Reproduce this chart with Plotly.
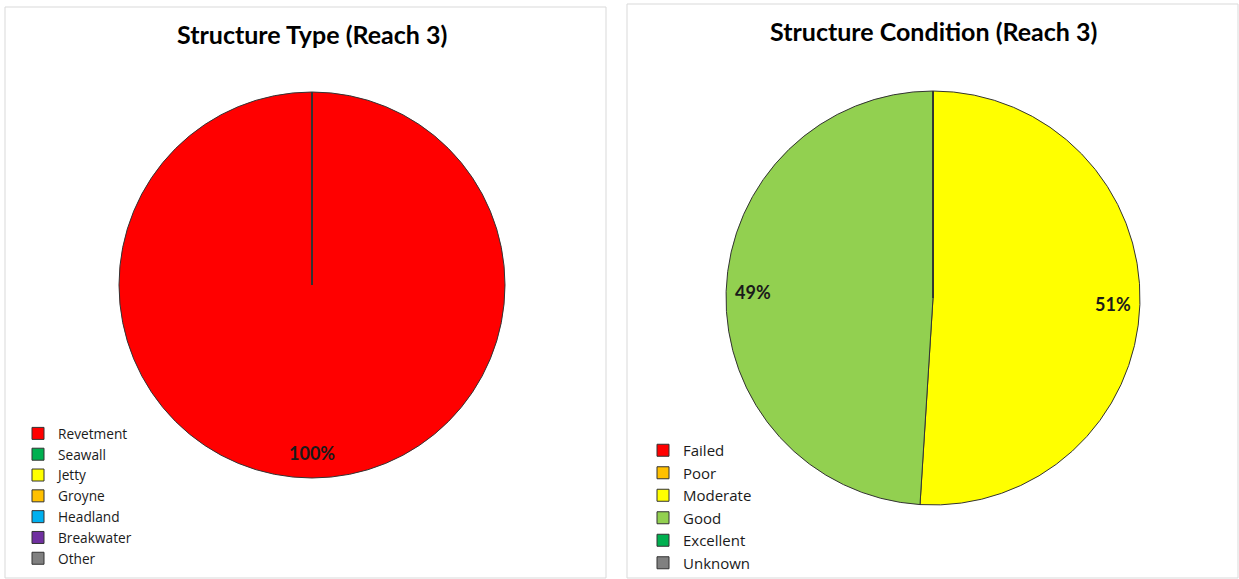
import plotly.graph_objects as go
import math

W, H = 1239, 579

type_labels = ["Revetment", "Seawall", "Jetty", "Groyne", "Headland", "Breakwater", "Other"]
type_values = [100, 0, 0, 0, 0, 0, 0]
type_colors = ["#FF0000", "#00B050", "#FFFF00", "#FFC000", "#00B0F0", "#7030A0", "#808080"]

cond_labels = ["Failed", "Poor", "Moderate", "Good", "Excellent", "Unknown"]
cond_values = [0, 0, 51, 49, 0, 0]
cond_colors = ["#FF0000", "#FFC000", "#FFFF00", "#92D050", "#00B050", "#808080"]

FONT = "Lato"
LFONT = "Open Sans"

def px_x(v):
    return v / W

def px_y(v):
    return 1 - v / H

fig = go.Figure()

panels = [
    dict(labels=type_labels, values=type_values, colors=type_colors, cx=312, cy=285, r=193,
         legend="legend", title="Structure Type (Reach 3)", tx=312, ty=34),
    dict(labels=cond_labels, values=cond_values, colors=cond_colors, cx=933, cy=298, r=207,
         legend="legend2", title="Structure Condition (Reach 3)", tx=933, ty=31),
]

annotations = []
for p in panels:
    fig.add_trace(go.Pie(
        labels=p["labels"], values=p["values"], sort=False, direction="clockwise", rotation=0,
        marker=dict(colors=p["colors"], line=dict(color="#333333", width=1)),
        textinfo="none", hoverinfo="label+percent",
        domain=dict(x=[px_x(p["cx"] - p["r"]), px_x(p["cx"] + p["r"])],
                    y=[px_y(p["cy"] + p["r"]), px_y(p["cy"] - p["r"])]),
        legend=p["legend"],
    ))
    total = sum(p["values"])
    cum = 0
    for v in p["values"]:
        if v > 0:
            mid = (cum + v / 2) / total * 2 * math.pi
            fr = 0.87
            x = p["cx"] + fr * p["r"] * math.sin(mid)
            y = p["cy"] - fr * p["r"] * math.cos(mid)
            annotations.append(dict(x=px_x(x), y=px_y(y), xref="paper", yref="paper",
                                    xanchor="center", yanchor="middle",
                                    text="<b>%d%%</b>" % round(v / total * 100), showarrow=False,
                                    font=dict(family=FONT, size=18, color="#1a1a1a")))
        cum += v
    annotations.append(dict(x=px_x(p["tx"]), y=px_y(p["ty"]), xref="paper", yref="paper",
                            xanchor="center", yanchor="middle",
                            text="<b>" + p["title"] + "</b>", showarrow=False,
                            font=dict(family=FONT, size=25, color="#000000")))

shapes = [
    dict(type="rect", xref="paper", yref="paper", x0=px_x(5), x1=px_x(606), y0=px_y(578), y1=px_y(7),
         line=dict(color="#D9D9D9", width=1)),
    dict(type="rect", xref="paper", yref="paper", x0=px_x(627), x1=px_x(1238), y0=px_y(578), y1=px_y(4),
         line=dict(color="#D9D9D9", width=1)),
]

fig.update_layout(
    width=W, height=H, margin=dict(l=0, r=0, t=0, b=0),
    paper_bgcolor="white", plot_bgcolor="white",
    annotations=annotations, shapes=shapes,
    legend=dict(x=px_x(18), y=5 / H, xanchor="left", yanchor="bottom",
                font=dict(family=LFONT, size=13.7, color="#1a1a1a"), bgcolor="rgba(0,0,0,0)",
                itemclick=False, tracegroupgap=0),
    legend2=dict(x=px_x(643), y=0, xanchor="left", yanchor="bottom",
                 font=dict(family=LFONT, size=15, color="#1a1a1a"), bgcolor="rgba(0,0,0,0)",
                 itemclick=False),
)

fig.write_html("out.html")
